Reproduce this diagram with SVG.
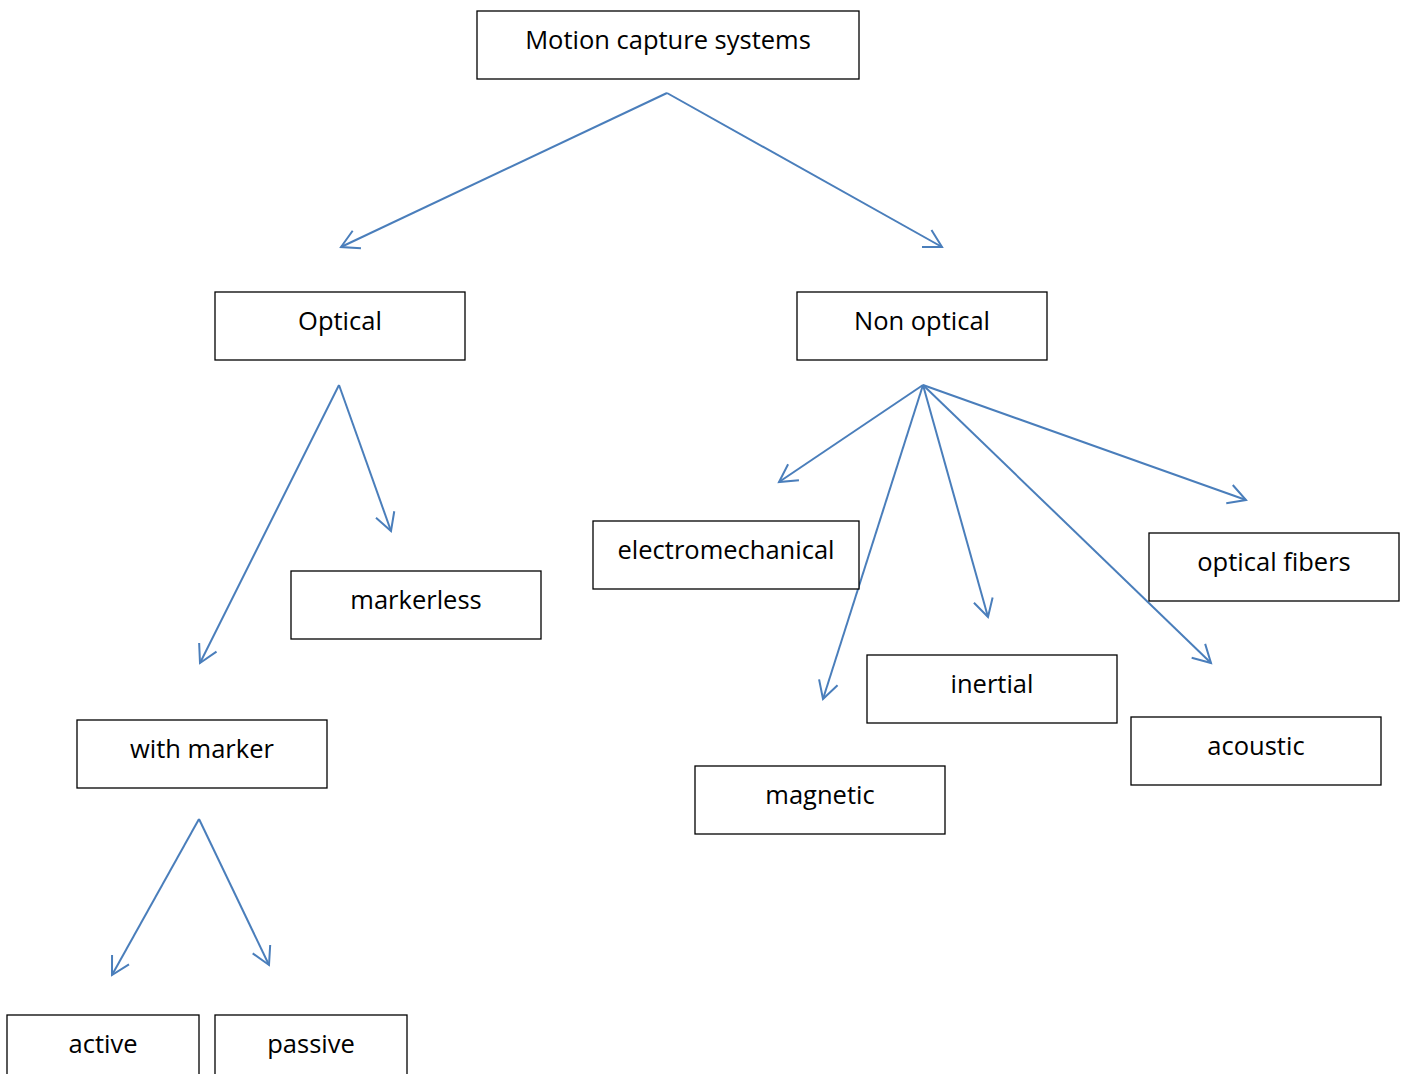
<svg xmlns="http://www.w3.org/2000/svg" width="1408" height="1074" viewBox="0 0 1408 1074">
<style>
.box{fill:#fff;stroke:#000;stroke-width:1.3}
.lbl{font-family:"Open Sans","Noto Sans","Liberation Sans",sans-serif;font-size:25.5px;fill:#000;text-anchor:middle}
.con{stroke:#4a7ebb;stroke-width:2;fill:none}
</style>
<defs>
<marker id="ah" markerUnits="userSpaceOnUse" markerWidth="40" markerHeight="40" viewBox="-20 -20 40 40" refX="0" refY="0" orient="auto" overflow="visible">
<path d="M -17.5 -9.7 L 0 0 L -17.5 9.7" fill="none" stroke="#4a7ebb" stroke-width="2"/>
</marker>
</defs>
<rect width="1408" height="1074" fill="#fff"/>
<g id="connectors">
<line class="con" x1="667" y1="93" x2="341" y2="247" marker-end="url(#ah)"/>
<line class="con" x1="667" y1="93" x2="942" y2="247" marker-end="url(#ah)"/>
<line class="con" x1="339" y1="385" x2="200" y2="663" marker-end="url(#ah)"/>
<line class="con" x1="339" y1="385" x2="391" y2="531" marker-end="url(#ah)"/>
<line class="con" x1="923" y1="385" x2="779" y2="482" marker-end="url(#ah)"/>
<line class="con" x1="923" y1="385" x2="823" y2="699" marker-end="url(#ah)"/>
<line class="con" x1="923" y1="385" x2="988" y2="617" marker-end="url(#ah)"/>
<line class="con" x1="923" y1="385" x2="1211" y2="663" marker-end="url(#ah)"/>
<line class="con" x1="923" y1="385" x2="1246" y2="500" marker-end="url(#ah)"/>
<line class="con" x1="199" y1="819" x2="112" y2="975" marker-end="url(#ah)"/>
<line class="con" x1="199" y1="819" x2="269" y2="965" marker-end="url(#ah)"/>
</g>
<g id="motion"><rect class="box" x="477" y="11" width="382" height="68"/><text class="lbl" x="668" y="49">Motion capture systems</text></g>
<g id="optical"><rect class="box" x="215" y="292" width="250" height="68"/><text class="lbl" x="340" y="330">Optical</text></g>
<g id="nonoptical"><rect class="box" x="797" y="292" width="250" height="68"/><text class="lbl" x="922" y="330">Non optical</text></g>
<g id="markerless"><rect class="box" x="291" y="571" width="250" height="68"/><text class="lbl" x="416" y="609">markerless</text></g>
<g id="withmarker"><rect class="box" x="77" y="720" width="250" height="68"/><text class="lbl" x="202" y="758">with marker</text></g>
<g id="active"><rect class="box" x="7" y="1015" width="192" height="68"/><text class="lbl" x="103" y="1053">active</text></g>
<g id="passive"><rect class="box" x="215" y="1015" width="192" height="68"/><text class="lbl" x="311" y="1053">passive</text></g>
<g id="electromechanical"><rect class="box" x="593" y="521" width="266" height="68"/><text class="lbl" x="726" y="559">electromechanical</text></g>
<g id="opticalfibers"><rect class="box" x="1149" y="533" width="250" height="68"/><text class="lbl" x="1274" y="571">optical fibers</text></g>
<g id="inertial"><rect class="box" x="867" y="655" width="250" height="68"/><text class="lbl" x="992" y="693">inertial</text></g>
<g id="acoustic"><rect class="box" x="1131" y="717" width="250" height="68"/><text class="lbl" x="1256" y="755">acoustic</text></g>
<g id="magnetic"><rect class="box" x="695" y="766" width="250" height="68"/><text class="lbl" x="820" y="804">magnetic</text></g>
</svg>
